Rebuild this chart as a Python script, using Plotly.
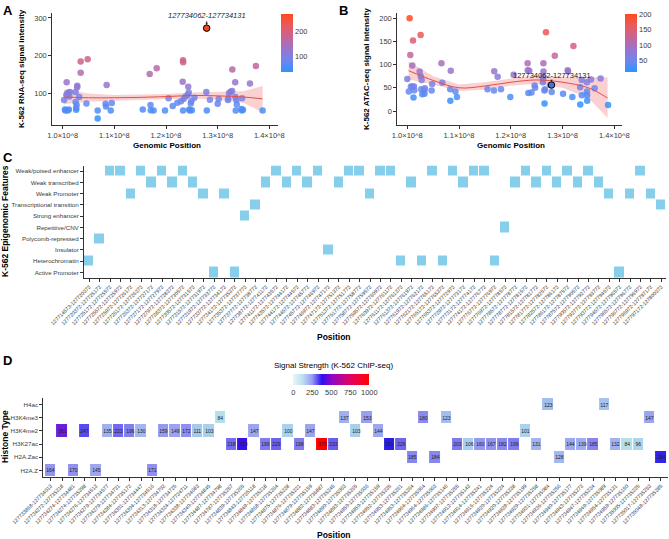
import plotly.graph_objects as go

FONT = "Liberation Sans, Arial, sans-serif"
W, H = 669, 539

# ---------------- Panel A: RNA-seq ----------------
a_pos_e8 = [1.0026, 1.0045, 1.0050, 1.0070, 1.0077, 1.0090, 1.0097, 1.0110, 1.0120, 1.0130,
            1.0140, 1.0250, 1.0250, 1.0260, 1.0262, 1.0270, 1.0280, 1.0282, 1.0320, 1.0348,
            1.0348, 1.0484, 1.0460, 1.0677, 1.0677, 1.0830, 1.0840, 1.0851, 1.0930, 1.0950,
            1.1550, 1.1684, 1.1700, 1.1705, 1.1760, 1.1820, 1.1980, 1.2050, 1.2130, 1.2220,
            1.2290, 1.2323, 1.2329, 1.2332, 1.2330, 1.2340, 1.2380, 1.2420, 1.2430, 1.2440,
            1.2450, 1.2460, 1.2480, 1.2490, 1.2500, 1.2550, 1.2787, 1.2780, 1.2790, 1.2850,
            1.3000, 1.3020,
            1.3200, 1.3205, 1.3220, 1.3250, 1.3280, 1.3284, 1.3340, 1.3342, 1.3350, 1.3360,
            1.3370, 1.3460, 1.3470, 1.3472, 1.3490, 1.3625, 1.3740, 1.3870]
a_rna = [83, 58, 55, 96, 130, 100, 55, 103, 58, 92,
         104, 78, 104, 62, 57, 70, 117, 121, 91, 185,
         155, 191, 74, 55, 34, 73, 66, 123, 55, 75,
         58, 152, 70, 56, 55, 167, 55, 88, 67, 76,
         80, 131, 188, 183, 55, 86, 92, 96, 118, 103,
         58, 55, 74, 80, 56, 89, 273, 104, 55, 84,
         73, 86,
         83, 87, 101, 105, 107, 164, 130, 91, 55, 83,
         71, 59, 55, 88, 57, 127, 173, 55]
a_fit_x_e8 = [1.0026, 1.05, 1.10, 1.15, 1.20, 1.25, 1.30, 1.35, 1.387]
a_fit = [91, 89, 89, 90, 92, 95, 94, 91, 86]
a_lo = [72, 79, 82, 83, 85, 87, 84, 76, 50]
a_hi = [111, 100, 96, 97, 99, 103, 104, 106, 120]

# ---------------- Panel B: ATAC-seq ----------------
b_pos_e8 = [1.0045, 1.0258, 1.0110, 1.2680, 1.3210, 1.0058, 1.2850, 1.0660, 1.2325, 1.2630,
            1.0097, 1.0840, 1.1680, 1.0238, 1.3100, 1.3105, 1.2632, 1.2327, 1.2357, 1.2055,
            1.1746, 1.0260, 1.0277, 1.0000, 1.0676, 1.0480, 1.2620, 1.2625, 1.2622, 1.3370,
            1.3550, 1.3735, 1.2757, 1.0030, 1.0135, 1.0097, 1.0130, 1.0120, 1.0270, 1.0330,
            1.0340, 1.0290, 1.0332, 1.0470, 1.0830, 1.0832, 1.0930, 1.0960, 1.1550, 1.1675,
            1.1810, 1.1990, 1.2340, 1.2400, 1.2650, 1.2660, 1.2652, 1.2790, 1.3010, 1.3190,
            1.3340, 1.3372, 1.3342, 1.3470, 1.3472, 1.3474, 1.3476, 1.3620, 1.3880, 1.0070,
            1.2460, 1.2470]
b_atac = [200, 164, 152, 170, 140, 121, 119, 103, 103, 103,
          98, 87, 86, 85, 88, 85, 85, 88, 87, 78,
          74, 75, 67, 69, 61, 58, 62, 68, 74, 67,
          68, 70, 56, 42, 45, 53, 53, 29, 47, 45,
          49, 36, 37, 44, 47, 22, 42, 30, 47, 44,
          47, 30, 39, 40, 44, 47, 16, 41, 37, 30,
          51, 34, 14, 62, 42, 34, 22, 49, 13, 53,
          55, 50]
b_fit_x_e8 = [1.0026, 1.05, 1.10, 1.15, 1.20, 1.25, 1.30, 1.35, 1.387]
b_fit = [87, 66, 50, 54, 62, 67, 62, 50, 28]
b_lo = [68, 57, 43, 46, 55, 58, 50, 28, -15]
b_hi = [107, 75, 57, 62, 70, 77, 74, 74, 72]

highlight_label = "127734062-127734131"
highlight_pos_e8 = 1.2787
highlight_rna = 273
highlight_atac = 56

genomic_ticks_e8 = [1.0, 1.1, 1.2, 1.3, 1.4]
genomic_tick_labels = ["1.0×10^8", "1.1×10^8", "1.2×10^8", "1.3×10^8", "1.4×10^8"]

# ---------------- Panel C: epigenomic features ----------------
feature_levels = ["Active Promoter", "Heterochromatin", "Insulator", "Polycomb-repressed",
                  "Repetitive/CNV", "Strong enhancer", "Transcriptional transition",
                  "Weak Promoter", "Weak transcribed", "Weak/poised enhancer"]
c_regions = [
    "127714573-127720372", "127720372-127725172", "127725172-127725572", "127725572-127725972",
    "127725972-127726172", "127726172-127726372", "127726372-127727172", "127727172-127727972",
    "127727972-127728372", "127728372-127730572", "127730572-127731572", "127731572-127731972",
    "127731972-127733772", "127733772-127734172", "127734172-127735372", "127735372-127737772",
    "127737772-127738772", "127738772-127741172", "127741172-127743572", "127743572-127744172",
    "127744172-127744572", "127744572-127745772", "127745772-127746972", "127746972-127747172",
    "127747172-127751372", "127751372-127751772", "127751772-127758772", "127758772-127759572",
    "127759572-127760972", "127760972-127761172", "127761172-127761372", "127761372-127761972",
    "127761972-127762172", "127762172-127765172", "127765172-127765372", "127765372-127772972",
    "127772972-127773172", "127773172-127774172", "127774172-127776772", "127776772-127776972",
    "127776972-127778572", "127778572-127778772", "127778772-127781572", "127781572-127781772",
    "127781772-127782572", "127782572-127786172", "127786172-127787572", "127787572-127790572",
    "127790572-127792772", "127792772-127793772", "127793772-127794572", "127794572-127796572",
    "127796572-127796772", "127796772-127796972", "127796972-127797172", "127797172-127800372"]
c_features = [
    "Heterochromatin", "Polycomb-repressed", "Weak/poised enhancer", "Weak/poised enhancer",
    "Weak Promoter", "Weak/poised enhancer", "Weak transcribed", "Weak/poised enhancer",
    "Weak transcribed", "Weak/poised enhancer", "Weak transcribed", "Weak Promoter",
    "Active Promoter", "Weak Promoter", "Active Promoter", "Strong enhancer",
    "Transcriptional transition", "Weak transcribed", "Weak/poised enhancer", "Weak transcribed",
    "Weak/poised enhancer", "Weak transcribed", "Weak/poised enhancer", "Insulator",
    "Weak transcribed", "Weak/poised enhancer", "Weak/poised enhancer", "Weak Promoter",
    "Weak/poised enhancer", "Weak/poised enhancer", "Heterochromatin", "Weak transcribed",
    "Heterochromatin", "Weak/poised enhancer", "Heterochromatin", "Weak/poised enhancer",
    "Weak transcribed", "Weak/poised enhancer", "Weak/poised enhancer", "Heterochromatin",
    "Repetitive/CNV", "Weak transcribed", "Weak/poised enhancer", "Weak transcribed",
    "Weak/poised enhancer", "Weak transcribed", "Weak/poised enhancer", "Weak transcribed",
    "Weak/poised enhancer", "Weak transcribed", "Weak Promoter", "Active Promoter",
    "Weak Promoter", "Weak/poised enhancer", "Weak Promoter", "Transcriptional transition"]

# ---------------- Panel D: histone ChIP-seq ----------------
histone_levels = ["H2A.Z", "H2A.Zac", "H3K27ac", "H3K4me2", "H3K4me3", "H4ac"]
d_regions = [
    "127733868-127734013", "127734272-127735218", "127734274-127734481", "127734274-127735398",
    "127734276-127734513", "127734279-127734577", "127734279-127734731", "127734284-127735172",
    "127734301-127734447", "127734304-127734516", "127734313-127734702",
    "127734318-127734725", "127734324-127734711", "127734338-127734683", "127734340-127734845",
    "127734487-127734798", "127734787-127735257", "127734839-127735265", "127734843-127735118",
    "127734849-127735218", "127734868-127735264", "127734875-127735228",
    "127734876-127735221", "127734879-127735159", "127734882-127736887", "127734883-127735245",
    "127734890-127735063", "127734893-127735265", "127734950-127735036", "127734950-127735159",
    "127734952-127735235", "127734953-127735261", "127734953-127735264",
    "127734964-127735064", "127734964-127735063", "127734986-127735146", "127734907-127735255",
    "127734912-127735143", "127734914-127735241", "127734916-127735224", "127734920-127735224",
    "127734920-127735238", "127734928-127735199", "127734929-127735258",
    "127734931-127735084", "127734936-127735256", "127734940-127735177", "127734943-127735273",
    "127734947-127735234", "127734949-127735089", "127734954-127735131", "127734959-127735150",
    "127735005-127735235", "127735017-127735253", "127735048-127735285"]
d_histones = [
    "H2A.Z", "H3K4me2", "H2A.Z", "H3K4me2", "H2A.Z", "H3K4me2", "H3K4me2", "H3K4me2",
    "H3K4me2", "H2A.Z", "H3K4me2", "H3K4me2", "H3K4me2", "H3K4me2", "H3K4me2", "H3K4me3",
    "H3K27ac", "H3K27ac", "H3K4me2", "H3K27ac", "H3K27ac", "H3K4me2", "H3K27ac", "H3K4me2",
    "H3K27ac", "H3K27ac", "H3K4me3", "H3K4me2", "H3K4me3", "H3K4me2", "H3K27ac", "H3K27ac",
    "H2A.Zac", "H3K4me3", "H2A.Zac", "H3K4me3", "H3K27ac", "H3K27ac", "H3K27ac", "H3K27ac",
    "H3K27ac", "H3K27ac", "H3K4me2", "H3K27ac", "H4ac", "H2A.Zac", "H3K27ac", "H3K27ac",
    "H3K27ac", "H4ac", "H3K27ac", "H3K27ac", "H3K27ac", "H3K4me3", "H2A.Zac"]
d_signal = [
    164, 361, 170, 247, 145, 135, 223, 196,
    130, 171, 159, 149, 172, 111, 103, 84,
    218, 329, 147, 199, 229, 100, 198, 147,
    370, 233, 137, 103, 153, 144, 291, 226,
    185, 180, 184, 123, 203, 106, 160, 167,
    182, 199, 101, 131, 123, 128, 144, 139,
    185, 117, 132, 84, 96, 147, 284]
d_legend_ticks = [0, 250, 500, 750, 1000]

# ---------------- styling helpers ----------------
def px_x(p):
    return p / W

def px_y(p):
    return 1 - p / H

scatter_cs = [[0, "#2f93ff"], [0.2, "#6f86ec"], [0.4, "#9a74cc"], [0.6, "#c76496"],
              [0.8, "#ea5a5e"], [1, "#ff4a1c"]]
legend_cs = [[0, "#e6f7fb"], [0.12, "#bfe2f0"], [0.25, "#9a9cf2"], [0.38, "#2a10f2"],
             [0.5, "#8a06c8"], [0.7, "#d1047a"], [0.85, "#f2023a"], [1, "#ff0000"]]
d_min, d_max = min(d_signal), max(d_signal)
def nz(v):
    return (v - d_min) / (d_max - d_min)
cell_cs = [[0, "#b4e0ea"], [nz(100), "#a9d3ec"], [nz(130), "#a2b6f0"], [nz(160), "#9598f0"],
           [nz(200), "#7f7bf0"], [nz(230), "#6c62f0"], [nz(250), "#5548f0"], [nz(290), "#2a1ee6"],
           [nz(330), "#3a10ea"], [nz(361), "#6a1ed8"], [nz(366), "#b01090"], [1, "#ff0000"]]

TICKC = "#3a3a3a"
LINEC = "#333333"

fig = go.Figure()

# ---- Panel A ----
fx = [v * 1e8 for v in a_fit_x_e8]
fig.add_trace(go.Scatter(x=fx + fx[::-1], y=a_hi + a_lo[::-1], fill="toself",
                         fillcolor="rgba(240,120,120,0.35)", line=dict(width=0),
                         mode="lines", hoverinfo="skip", xaxis="x", yaxis="y", showlegend=False))
fig.add_trace(go.Scatter(x=[v * 1e8 for v in a_pos_e8], y=a_rna, mode="markers",
                         marker=dict(size=6.5, color=a_rna, colorscale=scatter_cs, cmin=34, cmax=273,
                                     opacity=0.85, line=dict(width=0),
                                     colorbar=dict(x=px_x(281), xanchor="left", y=px_y(14), yanchor="top",
                                                   len=58 / H, lenmode="fraction", thickness=12,
                                                   outlinewidth=0, xpad=0, ypad=0, tickvals=[100, 200],
                                                   ticks="", tickfont=dict(size=7.5, color=TICKC))),
                         xaxis="x", yaxis="y", showlegend=False))
fig.add_trace(go.Scatter(x=fx, y=a_fit, mode="lines", line=dict(color="#e0504a", width=1, shape="spline"),
                         xaxis="x", yaxis="y", showlegend=False))
fig.add_trace(go.Scatter(x=[highlight_pos_e8 * 1e8], y=[highlight_rna], mode="markers",
                         marker=dict(size=6.5, color="#f0481c", line=dict(color="black", width=1)),
                         xaxis="x", yaxis="y", showlegend=False))

# ---- Panel B ----
gx = [v * 1e8 for v in b_fit_x_e8]
fig.add_trace(go.Scatter(x=gx + gx[::-1], y=b_hi + b_lo[::-1], fill="toself",
                         fillcolor="rgba(240,120,120,0.35)", line=dict(width=0),
                         mode="lines", hoverinfo="skip", xaxis="x2", yaxis="y2", showlegend=False))
fig.add_trace(go.Scatter(x=[v * 1e8 for v in b_pos_e8], y=b_atac, mode="markers",
                         marker=dict(size=6.5, color=b_atac, colorscale=scatter_cs, cmin=13, cmax=200,
                                     opacity=0.85, line=dict(width=0),
                                     colorbar=dict(x=px_x(625), xanchor="left", y=px_y(14), yanchor="top",
                                                   len=58 / H, lenmode="fraction", thickness=12,
                                                   outlinewidth=0, xpad=0, ypad=0,
                                                   tickvals=[50, 100, 150, 200], ticks="",
                                                   tickfont=dict(size=7.5, color=TICKC))),
                         xaxis="x2", yaxis="y2", showlegend=False))
fig.add_trace(go.Scatter(x=gx, y=b_fit, mode="lines", line=dict(color="#e0504a", width=1, shape="spline"),
                         xaxis="x2", yaxis="y2", showlegend=False))
fig.add_trace(go.Scatter(x=[highlight_pos_e8 * 1e8], y=[highlight_atac], mode="markers",
                         marker=dict(size=6.5, color="#4a6fd0", line=dict(color="black", width=1)),
                         xaxis="x2", yaxis="y2", showlegend=False))

# ---- Panel C ----
c_z = [[None] * len(c_regions) for _ in feature_levels]
for i, f in enumerate(c_features):
    c_z[feature_levels.index(f)][i] = 1
fig.add_trace(go.Heatmap(z=c_z, x=list(range(len(c_regions))), y=list(range(len(feature_levels))),
                         colorscale=[[0, "#87ceeb"], [1, "#87ceeb"]], showscale=False,
                         xgap=1, ygap=1, hoverinfo="skip", xaxis="x3", yaxis="y3"))

# ---- Panel D ----
d_z = [[None] * len(d_regions) for _ in histone_levels]
d_t = [[""] * len(d_regions) for _ in histone_levels]
for i, (h, v) in enumerate(zip(d_histones, d_signal)):
    r = histone_levels.index(h)
    d_z[r][i] = v
    d_t[r][i] = str(v)
fig.add_trace(go.Heatmap(z=d_z, text=d_t, texttemplate="%{text}",
                         textfont=dict(size=5, color="#222", family=FONT),
                         x=list(range(len(d_regions))), y=list(range(len(histone_levels))),
                         colorscale=cell_cs, zmin=d_min, zmax=d_max, showscale=False,
                         xgap=1, ygap=1, hoverinfo="skip", xaxis="x4", yaxis="y4"))
# legend colour bar for panel D
fig.add_trace(go.Scatter(x=[None], y=[None], mode="markers", xaxis="x4", yaxis="y4", showlegend=False,
                         marker=dict(color=[0, 1000], cmin=0, cmax=1000, colorscale=legend_cs, size=0,
                                     colorbar=dict(orientation="h", x=px_x(331.3), xanchor="center",
                                                   y=px_y(373.5), yanchor="top", len=76 / W,
                                                   lenmode="fraction", thickness=11, outlinewidth=0,
                                                   xpad=0, ypad=0, tickvals=d_legend_ticks, ticks="",
                                                   tickfont=dict(size=7.5, color=TICKC)))))

ax_common = dict(showline=True, linecolor=LINEC, linewidth=1, ticks="outside", ticklen=3,
                 tickcolor=LINEC, showgrid=False, zeroline=False, fixedrange=True, automargin=False)

fig.update_layout(
    width=W, height=H, margin=dict(l=0, r=0, t=0, b=0, autoexpand=False),
    paper_bgcolor="white", plot_bgcolor="white",
    font=dict(family=FONT, color="black"),
    xaxis=dict(domain=[px_x(52.3), px_x(278)], range=[0.9799e8, 1.4168e8], anchor="y",
               tickvals=[v * 1e8 for v in genomic_ticks_e8], ticktext=genomic_tick_labels,
               tickfont=dict(size=7.5, color=TICKC), **ax_common),
    yaxis=dict(domain=[px_y(125), px_y(13)], range=[17, 313], anchor="x",
               tickvals=[100, 200, 300], tickfont=dict(size=7.5, color=TICKC), **ax_common),
    xaxis2=dict(domain=[px_x(397.3), px_x(621.7)], range=[0.9807e8, 1.4143e8], anchor="y2",
                tickvals=[v * 1e8 for v in genomic_ticks_e8], ticktext=genomic_tick_labels,
                tickfont=dict(size=7.5, color=TICKC), **ax_common),
    yaxis2=dict(domain=[px_y(125), px_y(13)], range=[-30.2, 211.4], anchor="x2",
                tickvals=[0, 50, 100, 150, 200], tickfont=dict(size=7.5, color=TICKC), **ax_common),
    xaxis3=dict(domain=[px_x(84), px_x(666.4)], range=[-0.5, len(c_regions) - 0.5], anchor="y3",
                tickvals=list(range(len(c_regions))), ticktext=c_regions, tickangle=-45,
                tickfont=dict(size=5.2, color=TICKC), **ax_common),
    yaxis3=dict(domain=[px_y(278), px_y(165.5)], range=[-0.5, len(feature_levels) - 0.5], anchor="x3",
                tickvals=list(range(len(feature_levels))), ticktext=feature_levels,
                tickfont=dict(size=6.2, color=TICKC), **ax_common),
    xaxis4=dict(domain=[px_x(43.3), px_x(667.5)], range=[-0.655, 54.58], anchor="y4",
                tickvals=list(range(len(d_regions))), ticktext=d_regions, tickangle=-45,
                tickfont=dict(size=5.2, color=TICKC), **ax_common),
    yaxis4=dict(domain=[px_y(477), px_y(398)], range=[-0.5, len(histone_levels) - 0.5], anchor="x4",
                tickvals=list(range(len(histone_levels))), ticktext=histone_levels,
                tickfont=dict(size=6.2, color=TICKC), **ax_common),
)

ann = []
def txt(x, y, s, size, bold=False, angle=0, xanchor="center", yanchor="middle", italic=False, color="black"):
    t = f"<b>{s}</b>" if bold else s
    if italic:
        t = f"<i>{t}</i>"
    ann.append(dict(x=px_x(x), y=px_y(y), xref="paper", yref="paper", text=t, showarrow=False,
                    textangle=angle, xanchor=xanchor, yanchor=yanchor,
                    font=dict(size=size, family=FONT, color=color)))

# panel letters
txt(1, 1, "A", 13, bold=True, xanchor="left", yanchor="top")
txt(337, 1, "B", 13, bold=True, xanchor="left", yanchor="top")
txt(1, 148, "C", 13, bold=True, xanchor="left", yanchor="top")
txt(1, 351, "D", 13, bold=True, xanchor="left", yanchor="top")
# axis titles
txt(21, 69, "K-562 RNA-seq signal intensity", 8, bold=True, angle=-90)
txt(167, 145, "Genomic Position", 8, bold=True)
txt(366, 69, "K-562 ATAC-seq signal intensity", 8, bold=True, angle=-90)
txt(511, 145, "Genomic Position", 8, bold=True)
txt(5, 221, "K-562 Epigenomic Features", 8.5, bold=True, angle=-90)
txt(334, 337, "Position", 8.5, bold=True)
txt(5, 437, "Histone Type", 8.5, bold=True, angle=-90)
txt(334, 535, "Position", 8.5, bold=True)
txt(334, 365.5, "Signal Strength (K-562 ChIP-seq)", 8)

# highlight labels
ann.append(dict(x=highlight_pos_e8 * 1e8, y=highlight_rna, xref="x", yref="y",
                text=f"<i>{highlight_label}</i>", showarrow=True, arrowhead=2, arrowsize=0.6,
                arrowwidth=0.8, arrowcolor="#222", ax=0, ay=-13, standoff=3,
                font=dict(size=7.5, family=FONT, color="#222")))
ann.append(dict(x=highlight_pos_e8 * 1e8, y=highlight_atac, xref="x2", yref="y2",
                text=highlight_label, showarrow=True, arrowhead=2, arrowsize=0.6,
                arrowwidth=0.8, arrowcolor="#222", ax=0, ay=-10, standoff=3,
                font=dict(size=7.5, family=FONT, color="#222")))
fig.update_layout(annotations=ann)

fig.write_html("out.html")
